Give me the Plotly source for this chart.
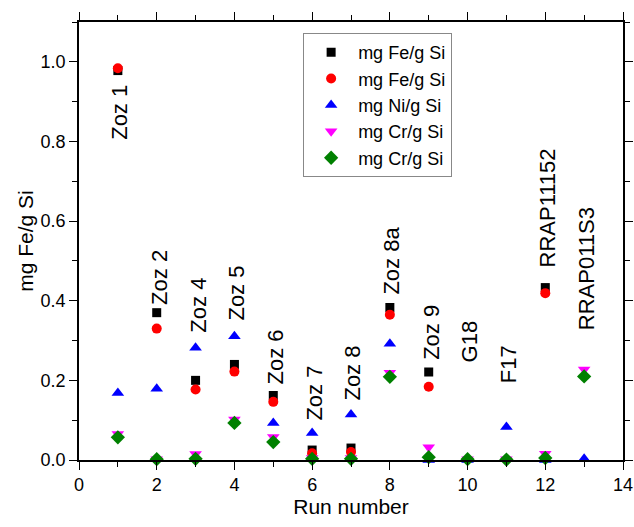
import plotly.graph_objects as go

# Run numbers and measured concentrations (mg per g Si)
runs = [1, 2, 3, 4, 5, 6, 7, 8, 9, 10, 11, 12, 13]
fe_a = [0.978, 0.370, 0.200, 0.240, 0.162, 0.025, 0.030, 0.383, 0.221, None, None, 0.433, None]
fe_b = [0.984, 0.330, 0.177, 0.222, 0.146, 0.017, 0.020, 0.365, 0.184, None, None, 0.419, None]
ni = [0.168, 0.179, 0.282, 0.311, 0.093, 0.068, 0.114, 0.292, 0.0, 0.0, 0.083, 0.0, 0.003]
cr_a = [0.065, 0.002, 0.015, 0.102, 0.058, 0.005, 0.005, 0.219, 0.032, 0.002, 0.002, 0.016, 0.227]
cr_b = [0.057, 0.002, 0.003, 0.093, 0.045, 0.003, 0.003, 0.209, 0.007, 0.002, 0.001, 0.005, 0.210]

# Sample names written above each run
sample_names = ["Zoz 1", "Zoz 2", "Zoz 4", "Zoz 5", "Zoz 6", "Zoz 7", "Zoz 8",
                "Zoz 8a", "Zoz 9", "G18", "F17", "RRAP11152", "RRAP011S3"]
name_base = [0.80, 0.385, 0.315, 0.345, 0.184, 0.093, 0.143,
             0.41, 0.247, 0.239, 0.189, 0.478, 0.32]

series = [
    ("mg Fe/g Si", fe_a, "square", "#000000", 9),
    ("mg Fe/g Si", fe_b, "circle", "#ff0000", 10),
    ("mg Ni/g Si", ni, "triangle-up", "#0000ff", 11),
    ("mg Cr/g Si", cr_a, "triangle-down", "#ff00ff", 11),
    ("mg Cr/g Si", cr_b, "diamond", "#008000", 11),
]

font_family = "Liberation Sans, Arial, sans-serif"

fig = go.Figure()
for name, vals, sym, col, size in series:
    fig.add_trace(go.Scatter(
        x=runs, y=vals, mode="markers", name=name, cliponaxis=False,
        marker=dict(symbol=sym, color=col, size=size, line=dict(width=0)),
    ))

for r, label, yb in zip(runs, sample_names, name_base):
    fig.add_annotation(
        x=r, y=yb, text=label, textangle=-90, showarrow=False,
        xanchor="center", yanchor="bottom", xshift=2,
        font=dict(size=22, color="black", family=font_family),
    )

axis_common = dict(
    showline=True, linecolor="black", linewidth=1.5, mirror="ticks",
    ticks="outside", ticklen=8, tickwidth=1.2, tickcolor="black",
    showgrid=False, zeroline=False, automargin=False,
    ticklabeloverflow="allow",
    tickfont=dict(size=18, color="black", family=font_family),
)

fig.update_xaxes(
    range=[0, 14], dtick=2, tick0=0,
    minor=dict(dtick=1, ticks="outside", ticklen=5, tickwidth=1.2, tickcolor="black"),
    title=dict(text="Run number", font=dict(size=21, color="black", family=font_family), standoff=4),
    **axis_common,
)
fig.update_yaxes(
    range=[0, 1.1], dtick=0.2, tick0=0, tickformat=".1f",
    minor=dict(dtick=0.1, ticks="outside", ticklen=5, tickwidth=1.2, tickcolor="black"),
    title=dict(text="mg Fe/g Si", font=dict(size=21, color="black", family=font_family), standoff=1),
    **axis_common,
)

fig.update_layout(
    width=634, height=527,
    margin=dict(l=79, r=11, t=22, b=67),
    plot_bgcolor="white", paper_bgcolor="white",
    font=dict(family=font_family, color="black"),
    legend=dict(
        x=0.412, y=0.975, xanchor="left", yanchor="top",
        bgcolor="white", bordercolor="#888888", borderwidth=1,
        font=dict(size=18, color="black", family=font_family),
        tracegroupgap=0, itemwidth=44,
    ),
)

fig.write_html("out.html")
